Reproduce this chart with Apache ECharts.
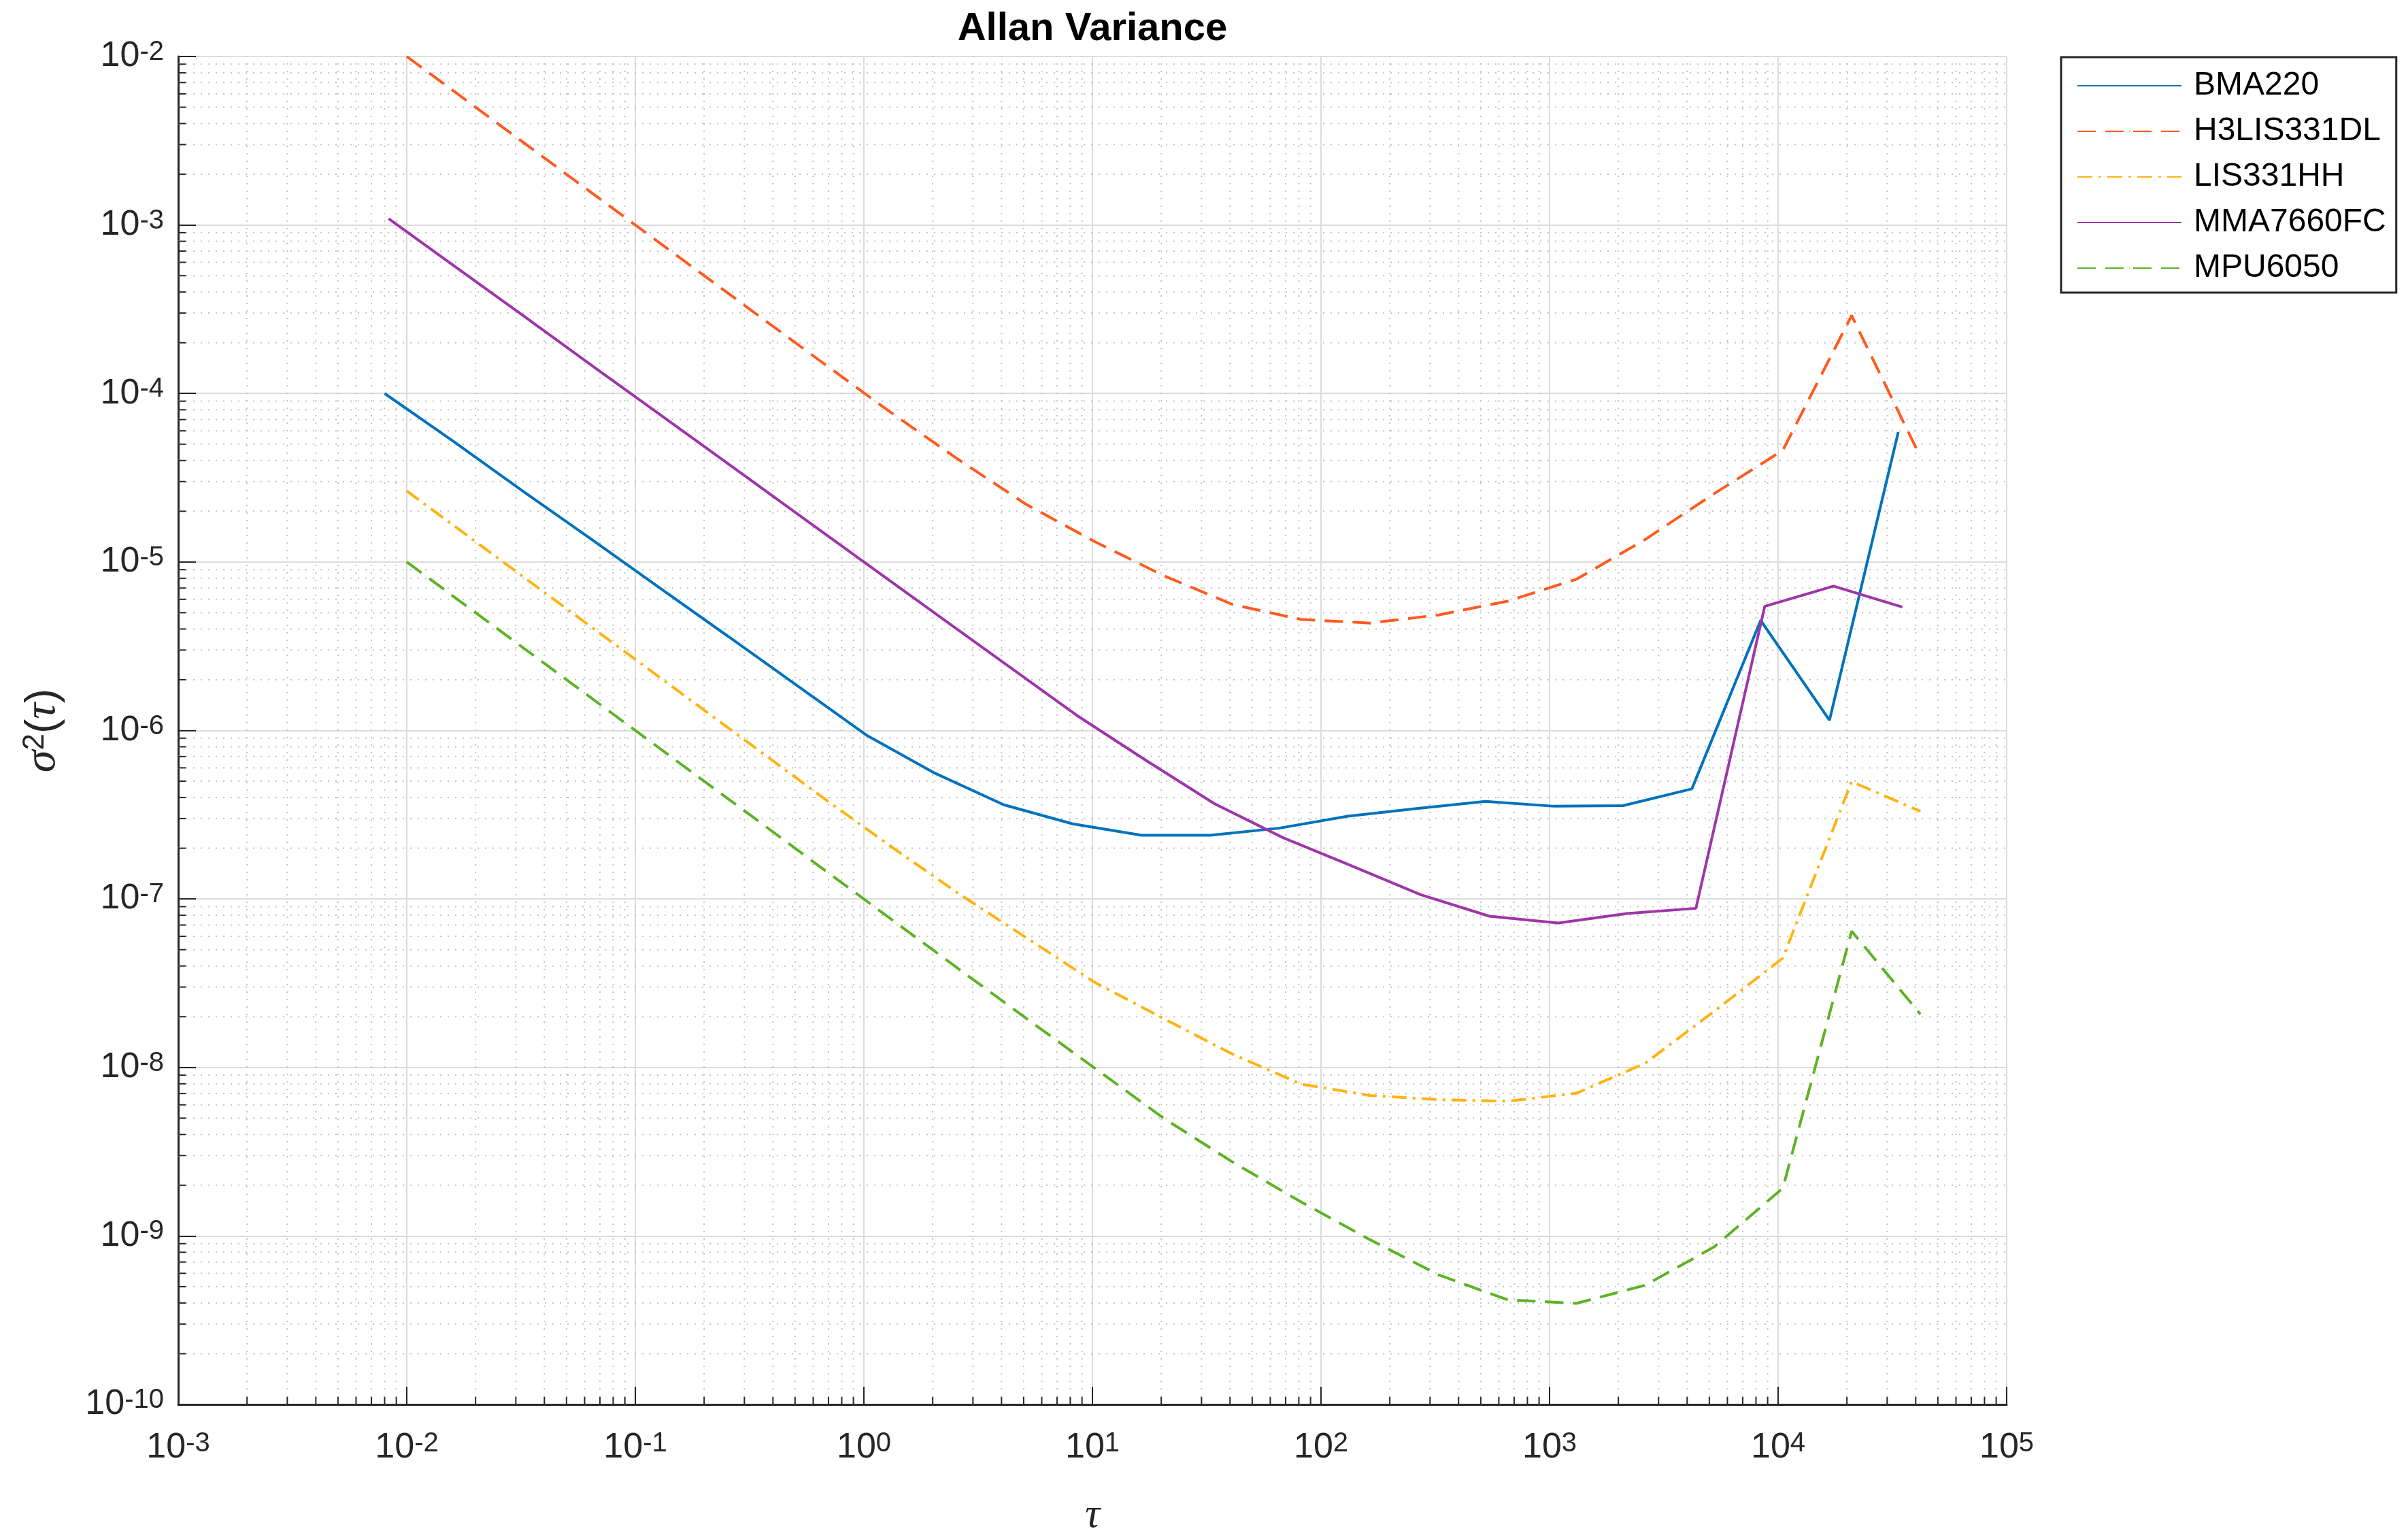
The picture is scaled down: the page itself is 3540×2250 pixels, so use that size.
<!DOCTYPE html>
<html>
<head>
<meta charset="utf-8">
<script src="https://cdn.jsdelivr.net/npm/echarts@6/dist/echarts.min.js"></script>
<style>
html,body{margin:0;padding:0;background:#ffffff;}
#chart{width:3540px;height:2250px;}
</style>
</head>
<body>
<div id="chart"></div>
<script>
// ---- data ----
const seriesNames = ['BMA220', 'H3LIS331DL', 'LIS331HH', 'MMA7660FC', 'MPU6050'];

// averaging times (octave spaced)
const tauBMA = [0.008, 0.016, 0.032, 0.064, 0.128, 0.256, 0.512, 1.024, 2.048, 4.096, 8.192, 16.384,
  32.768, 65.536, 131.072, 262.144, 524.288, 1048.576, 2097.152, 4194.304, 8388.608, 16777.216, 33554.432];
const tauLIS = [0.01, 0.02, 0.04, 0.08, 0.16, 0.32, 0.64, 1.28, 2.56, 5.12, 10.24, 20.48,
  40.96, 81.92, 163.84, 327.68, 655.36, 1310.72, 2621.44, 5242.88, 10485.76, 20971.52, 41943.04];
const tauMMA = [0.00833, 0.01667, 0.03333, 0.06667, 0.1333, 0.2667, 0.5333, 1.0667, 2.1333, 4.2667, 8.5333, 17.067,
  34.133, 68.267, 136.53, 273.07, 546.13, 1092.3, 2184.5, 4369.1, 8738.1, 17476, 34953];

const bma220 = [1.0e-4, 5.2e-5, 2.65e-5, 1.37e-5, 7.0e-6, 3.6e-6, 1.84e-6, 9.4e-7, 5.57e-7, 3.62e-7, 2.79e-7, 2.39e-7,
  2.39e-7, 2.63e-7, 3.1e-7, 3.44e-7, 3.79e-7, 3.55e-7, 3.58e-7, 4.5e-7, 4.5e-6, 1.15e-6, 5.9e-5];
const h3lis331dl = [1.0e-2, 5.0e-3, 2.5e-3, 1.25e-3, 6.25e-4, 3.13e-4, 1.57e-4, 7.9e-5, 4.1e-5, 2.2e-5, 1.32e-5, 8.3e-6,
  5.6e-6, 4.56e-6, 4.34e-6, 4.85e-6, 5.85e-6, 7.9e-6, 1.36e-5, 2.54e-5, 4.6e-5, 2.9e-4, 4.2e-5];
const lis331hh = [2.64e-5, 1.32e-5, 6.6e-6, 3.3e-6, 1.65e-6, 8.25e-7, 4.13e-7, 2.1e-7, 1.09e-7, 5.9e-8, 3.2e-8, 1.95e-8,
  1.2e-8, 7.96e-9, 6.82e-9, 6.44e-9, 6.31e-9, 7.03e-9, 1.06e-8, 2.15e-8, 4.46e-8, 4.97e-7, 3.31e-7];
const mma7660fc = [1.09e-3, 5.53e-4, 2.81e-4, 1.42e-4, 7.21e-5, 3.66e-5, 1.85e-5, 9.4e-6, 4.76e-6, 2.42e-6, 1.23e-6, 6.67e-7,
  3.68e-7, 2.31e-7, 1.57e-7, 1.06e-7, 7.9e-8, 7.2e-8, 8.2e-8, 8.8e-8, 5.45e-6, 7.19e-6, 5.4e-6];
const mpu6050 = [1.0e-5, 5.0e-6, 2.5e-6, 1.25e-6, 6.25e-7, 3.13e-7, 1.56e-7, 7.8e-8, 3.9e-8, 1.96e-8, 9.9e-9, 5.0e-9,
  2.75e-9, 1.59e-9, 9.5e-10, 5.87e-10, 4.18e-10, 3.98e-10, 5.1e-10, 8.6e-10, 1.92e-9, 6.44e-8, 2.07e-8];

// axis ticks (decades)
const xTickValues = [1e-3, 1e-2, 1e-1, 1e0, 1e1, 1e2, 1e3, 1e4, 1e5];
const yTickValues = [1e-10, 1e-9, 1e-8, 1e-7, 1e-6, 1e-5, 1e-4, 1e-3, 1e-2];
const minorMultipliers = [2, 3, 4, 5, 6, 7, 8, 9];

// ---- styling ----
const FONT = 'Liberation Sans, Arial, Helvetica, sans-serif';
const AXIS_COLOR = '#262626';
const colors = ['#0072BD', '#FF5A1F', '#FFB310', '#9E35A8', '#5CB325'];
const lineTypes = ['solid', [27, 14], [22, 9, 4, 9], 'solid', [27, 14]];

const X_MIN = xTickValues[0], X_MAX = xTickValues[xTickValues.length - 1];
const Y_MIN = yTickValues[0], Y_MAX = yTickValues[yTickValues.length - 1];

function pairs(xs, ys) { return xs.map((x, i) => [x, ys[i]]); }

// minor gridline positions (one per sub-decade value)
const minorData = [];
xTickValues.slice(0, -1).forEach(d => minorMultipliers.forEach(m => minorData.push([d * m, Y_MIN, 0])));
yTickValues.slice(0, -1).forEach(d => minorMultipliers.forEach(m => minorData.push([X_MIN, d * m, 1])));

function tickRich(raise) {
  return {
    m: { fontSize: 52, fontFamily: FONT, color: AXIS_COLOR, verticalAlign: 'bottom', lineHeight: 52 },
    e: { fontSize: 40, fontFamily: FONT, color: AXIS_COLOR, verticalAlign: 'top', lineHeight: 40, padding: [0, 0, raise, 0] }
  };
}
function powLabel(v) {
  const e = Math.round(Math.log10(v));
  return '{m|10}{e|' + e + '}';
}

const chart = echarts.init(document.getElementById('chart'), null, { renderer: 'canvas' });

const dataSeries = [bma220, h3lis331dl, lis331hh, mma7660fc, mpu6050];
const tauSeries = [tauBMA, tauLIS, tauLIS, tauMMA, tauLIS];

const series = [{
  type: 'custom',
  name: 'minorGrid',
  coordinateSystem: 'cartesian2d',
  silent: true,
  z: 1,
  data: minorData,
  renderItem: function (params, api) {
    const kind = api.value(2);
    if (kind === 0) {
      const v = api.value(0);
      const p0 = api.coord([v, Y_MIN]);
      const p1 = api.coord([v, Y_MAX]);
      return { type: 'group', children: [
        { type: 'line', shape: { x1: p0[0], y1: p0[1], x2: p1[0], y2: p1[1] },
          style: { stroke: '#c3c3c3', lineWidth: 2, lineDash: [2, 9] } },
        { type: 'line', shape: { x1: p0[0], y1: p0[1], x2: p0[0], y2: p0[1] - 11 },
          style: { stroke: AXIS_COLOR, lineWidth: 2 } }
      ]};
    } else {
      const v = api.value(1);
      const p0 = api.coord([X_MIN, v]);
      const p1 = api.coord([X_MAX, v]);
      return { type: 'group', children: [
        { type: 'line', shape: { x1: p0[0], y1: p0[1], x2: p1[0], y2: p1[1] },
          style: { stroke: '#c3c3c3', lineWidth: 2, lineDash: [2, 9] } },
        { type: 'line', shape: { x1: p0[0], y1: p0[1], x2: p0[0] + 11, y2: p0[1] },
          style: { stroke: AXIS_COLOR, lineWidth: 2 } }
      ]};
    }
  }
}];

seriesNames.forEach((name, i) => {
  series.push({
    type: 'line',
    name: name,
    data: pairs(tauSeries[i], dataSeries[i]),
    symbol: 'none',
    smooth: false,
    z: 5,
    lineStyle: { color: colors[i], width: 4, type: lineTypes[i] },
    itemStyle: { color: colors[i] },
    emphasis: { disabled: true }
  });
});

const option = {
  animation: false,
  backgroundColor: '#ffffff',
  title: {
    text: 'Allan Variance',
    left: 1606,
    top: 14,
    padding: 0,
    textAlign: 'center',
    textStyle: { fontFamily: FONT, fontSize: 58, fontWeight: 'bold', color: '#000000' }
  },
  grid: { left: 262, right: 590, top: 83, bottom: 186, containLabel: false, outerBoundsMode: 'none' },
  legend: {
    orient: 'vertical',
    left: 3030,
    top: 84,
    data: seriesNames,
    backgroundColor: '#ffffff',
    borderColor: AXIS_COLOR,
    borderWidth: 3,
    borderRadius: 0,
    padding: [18, 15, 12, 23],
    itemWidth: 153,
    itemHeight: 2,
    itemGap: 19,
    selectedMode: false,
    textStyle: { fontFamily: FONT, fontSize: 48, color: '#000000', lineHeight: 48, padding: [0, 0, 0, 13] }
  },
  xAxis: {
    type: 'log',
    logBase: 10,
    min: X_MIN,
    max: X_MAX,
    splitNumber: 8,
    name: 'τ',
    nameLocation: 'middle',
    nameGap: 128,
    nameTextStyle: { fontFamily: 'Liberation Serif, serif', fontStyle: 'italic', fontSize: 62, color: AXIS_COLOR },
    axisLine: { show: true, onZero: false, lineStyle: { color: AXIS_COLOR, width: 3 } },
    axisTick: { show: true, inside: true, length: 26, lineStyle: { color: AXIS_COLOR, width: 2 } },
    axisLabel: { margin: 38, formatter: powLabel, rich: tickRich(50) },
    splitLine: { show: true, lineStyle: { color: '#dcdcdc', width: 2 } }
  },
  yAxis: {
    type: 'log',
    logBase: 10,
    min: Y_MIN,
    max: Y_MAX,
    splitNumber: 8,
    name: '{g|σ}{s|2}{p|(}{g|τ}{p|)}',
    nameLocation: 'middle',
    nameGap: 166,
    nameRotate: 90,
    nameTextStyle: {
      rich: {
        g: { fontFamily: 'Liberation Serif, serif', fontStyle: 'italic', fontSize: 66, color: AXIS_COLOR, verticalAlign: 'bottom', lineHeight: 66 },
        p: { fontFamily: FONT, fontSize: 64, color: AXIS_COLOR, verticalAlign: 'bottom', lineHeight: 66 },
        s: { fontFamily: FONT, fontSize: 44, color: AXIS_COLOR, verticalAlign: 'top', lineHeight: 44, padding: [0, 0, 34, 0] }
      }
    },
    axisLine: { show: true, onZero: false, lineStyle: { color: AXIS_COLOR, width: 3 } },
    axisTick: { show: true, inside: true, length: 26, lineStyle: { color: AXIS_COLOR, width: 2 } },
    axisLabel: { margin: 21, formatter: powLabel, rich: tickRich(44) },
    splitLine: { show: true, lineStyle: { color: '#dcdcdc', width: 2 } }
  },
  series: series
};

chart.setOption(option);
</script>
</body>
</html>
